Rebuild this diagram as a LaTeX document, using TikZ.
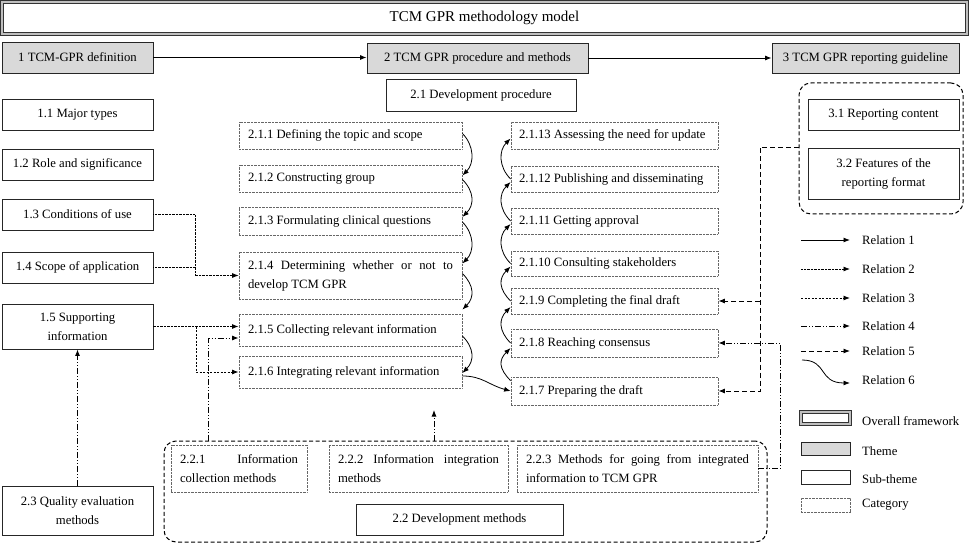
\documentclass[tikz,border=0pt]{standalone}
\usepackage{fontspec}
\setmainfont{Liberation Serif}
\usetikzlibrary{arrows.meta}
\newcommand\bx[7]{\node[#6, minimum width={(#4)-(#2)}, minimum height={(#5)-(#3)}] (#1) at ({((#2)+(#4))/2},{((#3)+(#5))/2}) {#7};}
\begin{document}
\begin{tikzpicture}[x=1pt,y=-1pt,
  every node/.style={font=\fontsize{12.7}{19}\selectfont, inner sep=0pt},
  box/.style={draw=black!85, line width=0.8pt},
  theme/.style={box, fill=gray!30},
  sub/.style={box, fill=white, align=center},
  cat/.style={draw=black!60, line width=0.8pt, dash pattern=on 0.7pt off 0.7pt, align=flush left, inner xsep=9pt},
  catr/.style={cat, inner xsep=8pt, text width=191pt},
  frame/.style={draw=black!80, line width=0.6pt, double=gray!50, double distance=2.2pt},
  grp/.style={draw, line width=1pt, dash pattern=on 4pt off 2.5pt, rounded corners=12pt},
  tip/.style={-{Latex[length=6.5pt,width=5pt]}},
  rel1/.style={tip, line width=0.9pt},
  rel2/.style={tip, line width=0.8pt, dash pattern=on 0.7pt off 0.7pt},
  rel3/.style={tip, line width=0.9pt, dash pattern=on 2.2pt off 1.3pt},
  rel4/.style={tip, line width=0.9pt, dash pattern=on 6pt off 2pt on 1pt off 2pt on 1pt off 2pt},
  rel5/.style={tip, line width=0.9pt, dash pattern=on 5pt off 3pt},
  rel6/.style={tip, line width=0.8pt},
  lab/.style={anchor=west}
]
\useasboundingbox (0,0) rectangle (969,545);

% groups
\bx{g3}{799}{83}{963}{214}{grp}{}
\bx{g22}{164}{441}{767}{542}{grp}{}

% framework and themes
\bx{title}{2}{2}{967}{34}{frame,font=\fontsize{15}{18}\selectfont}{TCM GPR methodology model}
\bx{t1}{2}{42}{153}{73}{theme}{1 TCM-GPR definition}
\bx{t2}{367}{43}{588}{73}{theme}{2 TCM GPR procedure and methods}
\bx{t3}{772}{43}{959}{73}{theme}{3 TCM GPR reporting guideline}

% sub-themes
\bx{s21}{386}{79}{576}{111}{sub}{2.1 Development procedure}
\bx{s11}{2}{99}{153}{130}{sub}{1.1 Major types}
\bx{s12}{2}{149}{153}{180}{sub}{1.2 Role and significance}
\bx{s13}{2}{199}{153}{230}{sub}{1.3 Conditions of use}
\bx{s14}{2}{252}{153}{283}{sub}{1.4 Scope of application}
\bx{s15}{2}{304}{153}{349}{sub}{1.5 Supporting\\information}
\bx{s23}{2}{486}{153}{535}{sub}{2.3 Quality evaluation\\methods}
\bx{s31}{808}{99}{959}{130}{sub}{3.1 Reporting content}
\bx{s32}{808}{148}{959}{199}{sub}{3.2 Features of the\\reporting format}
\bx{s22}{356}{504}{563}{535}{sub}{2.2 Development methods}

% categories, middle column
\bx{c211}{239}{122}{462}{149}{cat,text width=205pt}{2.1.1 Defining the topic and scope}
\bx{c212}{239}{165}{462}{192}{cat,text width=205pt}{2.1.2 Constructing group}
\bx{c213}{239}{207}{462}{235}{cat,text width=205pt}{2.1.3 Formulating clinical questions}
\bx{c214}{239}{252}{462}{299}{cat,text width=205pt}{2.1.4 \hfill Determining \hfill whether \hfill or \hfill not \hfill to\\develop TCM GPR}
\bx{c215}{239}{314}{462}{346}{cat,text width=205pt}{2.1.5 Collecting relevant information}
\bx{c216}{239}{356}{462}{388}{cat,text width=205pt}{2.1.6 Integrating relevant information}

% categories, right column
\bx{c2113}{511}{122}{718}{149}{catr}{\mbox{2.1.13 Assessing the need for update}}
\bx{c2112}{511}{166}{718}{192}{catr}{\mbox{2.1.12 Publishing and disseminating}}
\bx{c2111}{511}{208}{718}{234}{catr}{2.1.11 Getting approval}
\bx{c2110}{511}{251}{718}{276}{catr}{2.1.10 Consulting stakeholders}
\bx{c219}{511}{288}{718}{314}{catr}{2.1.9 Completing the final draft}
\bx{c218}{511}{329}{718}{357}{catr}{2.1.8 Reaching consensus}
\bx{c217}{511}{377}{718}{405}{catr}{2.1.7 Preparing the draft}

% categories, bottom
\bx{c221}{171}{445}{307}{492}{cat,text width=118pt,font=\fontsize{12.7}{18.5}\selectfont}{2.2.1 \hfill Information\\collection methods}
\bx{c222}{329}{445}{508}{492}{cat,text width=161pt,font=\fontsize{12.7}{18.5}\selectfont}{2.2.2 \hfill Information \hfill integration\\methods}
\bx{c223}{517}{445}{758}{492}{cat,text width=223pt,font=\fontsize{12.7}{18.5}\selectfont}{2.2.3 \hfill Methods \hfill for \hfill going \hfill from \hfill integrated\\information to TCM GPR}

% relation 1
\draw[rel1] (t1.east) -- (t1.east -| t2.west);
\draw[rel1] (t2.east) -- (t2.east -| t3.west);

% relation 2
\coordinate (j2) at (195,0);
\draw[rel2] (s13.east) -- (s13.east -| j2) |- (c214.west);
\draw[rel2,-] (s14.east) -- (s14.east -| j2);

% relation 3
\coordinate (j3) at (196,0);
\draw[rel3] (s15.east) -- (s15.east -| c215.west);
\draw[rel3] (s15.east -| j3) |- (c216.west);

% relation 4
\coordinate (j4) at (208,338);
\draw[rel4] (g22.north -| j4) |- (c215.west |- j4);
\draw[rel4] (s23.north) -- (s15.south);
\coordinate (j5) at (434,410);
\draw[rel4] (g22.north -| j5) -- (j5);
\draw[rel4] (c223.east) -- ++(22,0) |- (c218.east);

% relation 5
\coordinate (j6) at (760,147);
\draw[rel5] (g3.west |- j6) -- (j6) |- (c217.east);
\draw[rel5] (j6 |- c219.east) -- (c219.east);

% relation 6, middle column
\draw[rel6] ([yshift=2pt]c211.east) .. controls +(12,12) and +(12,-12) .. ([yshift=3pt]c212.east);
\draw[rel6] ([yshift=-1pt]c212.east) .. controls +(12,12) and +(12,-12) .. ([yshift=4pt]c213.east);
\draw[rel6] ([yshift=-1pt]c213.east) .. controls +(12,12) and +(12,-12) .. ([yshift=12pt]c214.east);
\draw[rel6] ([yshift=2pt]c214.east) .. controls +(12,12) and +(12,-12) .. ([yshift=4pt]c215.north east);
\draw[rel6] ([yshift=-6pt]c215.east) .. controls +(12,12) and +(12,-12) .. ([yshift=-1pt]c216.east);
\draw[rel6] ([yshift=-4pt]c216.east) .. controls +(20,0) and +(-22,-6) .. (c217.west);

% relation 6, right column
\draw[rel6] ([yshift=-4pt]c217.north west) .. controls +(-12,-12) and +(-12,12) .. ([yshift=-5pt]c218.west);
\draw[rel6] (c218.west) .. controls +(-12,-12) and +(-12,12) .. ([yshift=-6pt]c219.west);
\draw[rel6] (c219.west) .. controls +(-12,-12) and +(-12,12) .. ([yshift=-3pt]c2110.west);
\draw[rel6] (c2110.west) .. controls +(-12,-12) and +(-12,12) .. ([yshift=-3pt]c2111.west);
\draw[rel6] (c2111.west) .. controls +(-12,-12) and +(-12,12) .. ([yshift=-3pt]c2112.west);
\draw[rel6] (c2112.west) .. controls +(-12,-12) and +(-12,12) .. ([yshift=-3pt]c2113.west);

% legend
\draw[rel1] (801,240) -- (850,240);
\node[lab] (l1) at (862,240) {Relation 1};
\draw[rel2] (801,269) -- (850,269);
\node[lab] (l2) at (862,269) {Relation 2};
\draw[rel3] (801,298) -- (850,298);
\node[lab] (l3) at (862,298) {Relation 3};
\draw[rel4] (801,326) -- (850,326);
\node[lab] (l4) at (862,326) {Relation 4};
\draw[rel5] (801,351) -- (850,351);
\node[lab] (l5) at (862,351) {Relation 5};
\draw[rel6] (802,360) .. controls (828,360) and (818,383) .. (850,383);
\node[lab] (l6) at (862,380) {Relation 6};
\bx{k1}{801}{412}{850}{424}{frame}{}
\node[lab] (l7) at (862,421) {Overall framework};
\bx{k2}{801}{442}{850}{455}{theme}{}
\node[lab] (l8) at (862,451) {Theme};
\bx{k3}{801}{470}{850}{484}{sub}{}
\node[lab] (l9) at (862,479) {Sub-theme};
\bx{k4}{801}{498}{850}{512}{cat}{}
\node[lab] (l10) at (862,505) {Category};
\end{tikzpicture}
\end{document}
